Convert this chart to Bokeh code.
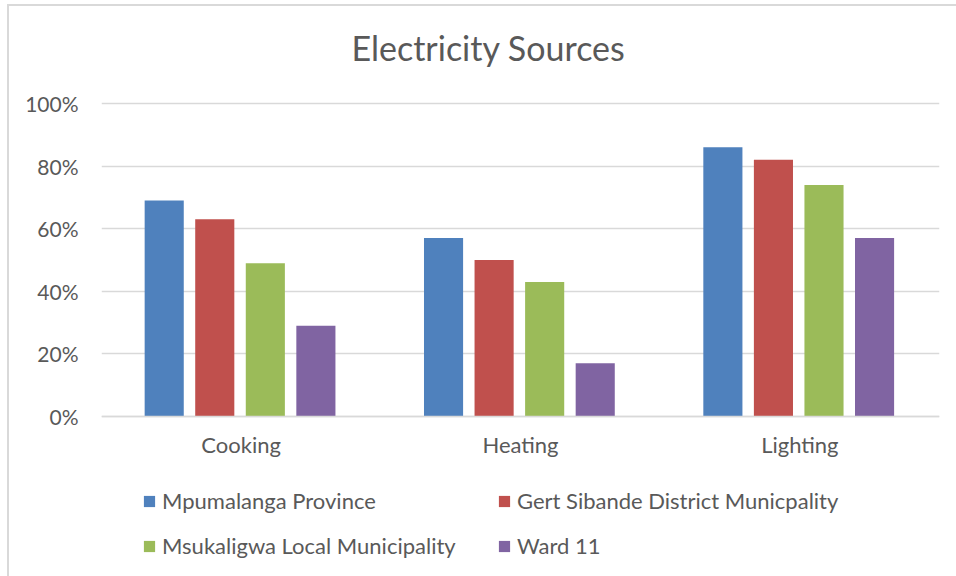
from bokeh.plotting import figure
from bokeh.models import (FactorRange, Range1d, NumeralTickFormatter, FixedTicker,
                          Legend, LegendItem, ColumnDataSource, Label)
from bokeh.transform import dodge
from bokeh.embed import file_html
from bokeh.resources import INLINE

# Share of households using electricity, by purpose
categories = ["Cooking", "Heating", "Lighting"]
series_names = [
    "Mpumalanga Province",
    "Gert Sibande District Municpality",
    "Msukaligwa Local Municipality",
    "Ward 11",
]
mpumalanga = [0.69, 0.57, 0.86]
gert_sibande = [0.63, 0.50, 0.82]
msukaligwa = [0.49, 0.43, 0.74]
ward_11 = [0.29, 0.17, 0.57]
y_ticks = [0.0, 0.2, 0.4, 0.6, 0.8, 1.0]
title_text = "Electricity Sources"

colors = ["#4F81BD", "#C0504D", "#9BBB59", "#8064A2"]
text_color = "#595959"
grid_color = "#D9D9D9"
font = "Lato"

source = ColumnDataSource(dict(
    cat=categories,
    s0=mpumalanga,
    s1=gert_sibande,
    s2=msukaligwa,
    s3=ward_11,
))

# The frame spans the full height so that the title and the legend can sit
# inside it; the value axis only labels 0-100 and the category axis is
# pinned at y = 0.
p = figure(
    width=956, height=576,
    x_range=FactorRange(*categories, range_padding=0),
    y_range=Range1d(-0.5112, 1.3291),
    output_backend="svg", toolbar_location=None,
    min_border_left=101, min_border_right=17,
    min_border_top=0, min_border_bottom=0,
    border_fill_color=None, background_fill_color=None,
)
p.title.visible = False

# thin frame line round the chart area, drawn as the page element's background
p.styles = {
    "background-color": "white",
    "background-image": "linear-gradient(#D9D9D9, #D9D9D9), linear-gradient(#D9D9D9, #D9D9D9)",
    "background-size": "2px 100%, 100% 2px",
    "background-position": "7px 4px, 7px 4px",
    "background-repeat": "no-repeat",
}

p.add_layout(Label(
    x=1.3855, y=1.179, text=title_text,
    text_font=font, text_font_size="34px", text_color=text_color,
    text_align="center", text_baseline="middle",
))

step = 0.181
offsets = [-1.5 * step - 0.004, -0.5 * step - 0.004, 0.5 * step - 0.004, 1.5 * step - 0.004]
renderers = []
for i, (off, col) in enumerate(zip(offsets, colors)):
    r = p.vbar(x=dodge("cat", off, range=p.x_range), top=f"s{i}", width=0.14,
               source=source, fill_color=col, line_color=None)
    renderers.append(r)

p.outline_line_color = None
p.xgrid.grid_line_color = None
p.ygrid.grid_line_color = grid_color
p.ygrid.grid_line_width = 1.5
p.ygrid.ticker = FixedTicker(ticks=y_ticks)

p.yaxis.ticker = FixedTicker(ticks=y_ticks)
p.yaxis.formatter = NumeralTickFormatter(format="0%")
p.yaxis.axis_line_color = None
p.yaxis.major_tick_line_color = None
p.yaxis.minor_tick_line_color = None
p.yaxis.major_label_standoff = 17
p.yaxis.major_label_text_font = font
p.yaxis.major_label_text_font_size = "21px"
p.yaxis.major_label_text_color = text_color

p.xaxis.fixed_location = 0
p.xaxis.axis_line_color = grid_color
p.xaxis.axis_line_width = 1.5
p.xaxis.major_tick_line_color = None
p.xaxis.minor_tick_line_color = None
p.xaxis.major_label_standoff = 9
p.xaxis.major_label_text_font = font
p.xaxis.major_label_text_font_size = "22px"
p.xaxis.major_label_text_color = text_color

# legend fills column by column: two rows, two columns
order = [0, 2, 1, 3]
items = [LegendItem(label=series_names[i], renderers=[renderers[i]]) for i in order]
legend = Legend(
    items=items, ncols=2, location=(41, 17),
    glyph_width=14, glyph_height=14, label_standoff=6,
    label_width=317, label_height=20, spacing=18,
    padding=0, margin=0, border_line_color=None, background_fill_alpha=0,
    label_text_font=font, label_text_font_size="22px", label_text_color=text_color,
)
p.add_layout(legend, "center")

open("out.html", "w").write(file_html(p, INLINE))
